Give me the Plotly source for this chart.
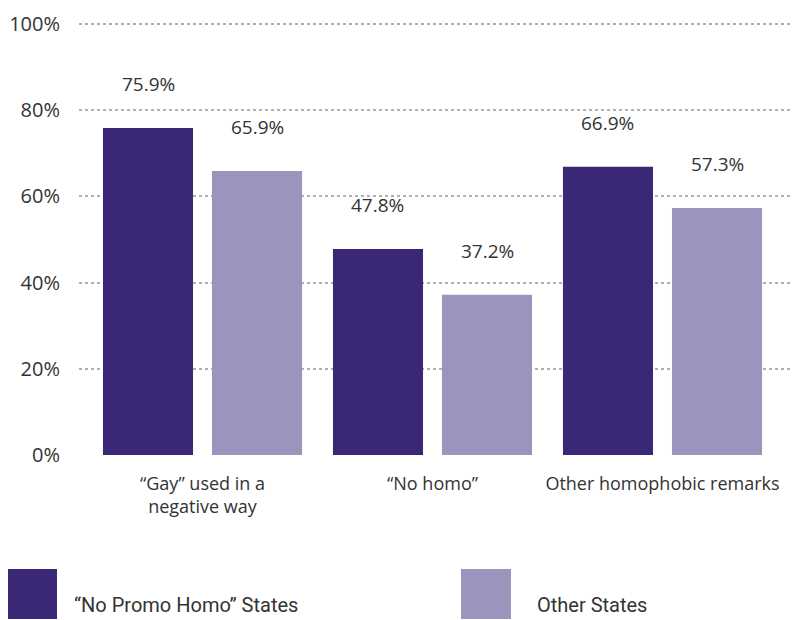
import plotly.graph_objects as go

categories = ["“Gay” used in a<br>negative way", "“No homo”", "Other homophobic remarks"]
series_names = ["“No Promo Homo” States", "Other States"]
no_promo = [75.9, 47.8, 66.9]
other_states = [65.9, 37.2, 57.3]
tick_vals = [0, 20, 40, 60, 80, 100]
tick_text = ["0%", "20%", "40%", "60%", "80%", "100%"]
colors = ["#3a2876", "#9c94bc"]

W, H = 801, 620
BODY = 8  # page body margin offset
ML, MR, MT, MB = 79 - BODY, 0, 23 - BODY, H - (455 - BODY)
BARGAP = 0.052
BARGROUPGAP = 0.174
FONT = "'Open Sans', sans-serif"
TXT = "#333333"

xs = list(range(len(categories)))
fig = go.Figure()
for name, vals, col in zip(series_names, [no_promo, other_states], colors):
    fig.add_trace(go.Bar(x=xs, y=vals, name=name, marker_color=col,
                         marker_line_width=0, showlegend=False))

# value labels above bars
off = (1 - BARGAP) / 4
for si, vals in enumerate([no_promo, other_states]):
    d = -off if si == 0 else off
    for i, v in enumerate(vals):
        fig.add_annotation(x=i + d, y=v, text=f"{v:.1f}%", showarrow=False,
                           yshift=44, yanchor="middle", xanchor="center",
                           font=dict(family=FONT, size=19, color=TXT))

# custom legend (large swatches); positions given in screen pixels
pw = W - ML - MR
ph = H - MT - MB
def px_x(p): return (p - BODY - ML) / pw
def px_y(p): return (H - MB - (p - BODY)) / ph
legend_items = [(7, 57, 72), (461, 511, 535)]
for (x0, x1, tx), name, col in zip(legend_items, series_names, colors):
    fig.add_shape(type="rect", xref="paper", yref="paper",
                  x0=px_x(x0), x1=px_x(x1), y0=px_y(619), y1=px_y(569),
                  fillcolor=col, line_width=0)
    fig.add_annotation(xref="paper", yref="paper", x=px_x(tx), y=px_y(619),
                       text=name, showarrow=False, xanchor="left", yanchor="bottom",
                       font=dict(family="Roboto, sans-serif", size=20, color=TXT))

fig.update_layout(
    width=W, height=H, margin=dict(l=ML, r=MR, t=MT, b=MB),
    plot_bgcolor="white", paper_bgcolor="white",
    barmode="group", bargap=BARGAP, bargroupgap=BARGROUPGAP,
    font=dict(family=FONT, size=18, color=TXT),
    xaxis=dict(tickmode="array", tickvals=xs, ticktext=categories,
               range=[-0.537, 2.637], showgrid=False, zeroline=False,
               showline=False, ticks="", ticklabelstandoff=16,
               tickfont=dict(size=18, color=TXT)),
    yaxis=dict(range=[0, 100.25], tickvals=tick_vals, ticktext=tick_text,
               showgrid=True, gridcolor="#b0b0b0", gridwidth=2, griddash="dot",
               zeroline=False, showline=False, ticks="",
               ticklabelstandoff=18, tickfont=dict(size=20, color=TXT)),
)
fig.write_html("out.html")
